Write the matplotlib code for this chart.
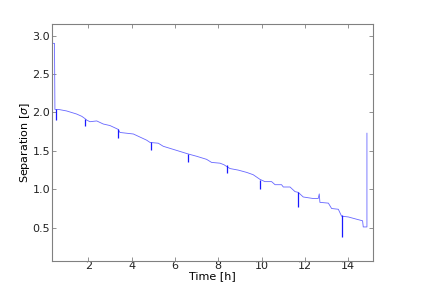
import matplotlib
matplotlib.use('Agg')
import matplotlib.pyplot as plt

# main separation trace (time in h, separation in sigma)
time_h = [0.34, 0.44, 0.46, 0.62, 1.00, 1.23, 1.46, 1.70, 1.85, 1.93, 2.08, 2.39, 2.69,
          3.00, 3.23, 3.38, 3.46, 4.08, 4.31, 4.69, 4.85, 5.23, 5.46, 5.92, 6.38, 6.61,
          7.00, 7.46, 7.69, 8.08, 8.26, 8.54, 8.92, 9.31, 9.61, 9.92, 10.15, 10.46,
          10.62, 10.92, 11.00, 11.31, 11.54, 11.69, 11.92, 12.38, 12.61, 12.66, 12.69,
          13.08, 13.23, 13.54, 13.69, 14.00, 14.39, 14.66, 14.69, 14.86, 14.86]
separation = [2.90, 2.90, 2.04, 2.04, 2.02, 2.00, 1.98, 1.95, 1.92, 1.90, 1.88, 1.89, 1.85,
              1.83, 1.80, 1.78, 1.74, 1.72, 1.69, 1.64, 1.61, 1.60, 1.56, 1.52, 1.48, 1.46,
              1.43, 1.39, 1.35, 1.34, 1.32, 1.27, 1.25, 1.22, 1.19, 1.13, 1.10, 1.10,
              1.06, 1.06, 1.03, 1.03, 0.97, 0.96, 0.90, 0.88, 0.88, 0.94, 0.83,
              0.82, 0.75, 0.74, 0.65, 0.64, 0.61, 0.59, 0.51, 0.51, 1.73]

# short downward glitches
spike_t = [0.52, 1.85, 3.38, 4.90, 6.61, 8.39, 9.92, 11.69, 13.70]
spike_top = [2.04, 1.92, 1.78, 1.62, 1.46, 1.31, 1.12, 0.96, 0.66]
spike_low = [1.90, 1.83, 1.67, 1.51, 1.36, 1.21, 1.00, 0.77, 0.38]

fig = plt.figure(figsize=(4.36, 2.91), dpi=100)
ax = fig.add_axes([0.12, 0.104, 0.736, 0.813])

ax.plot(time_h, separation, color='#6666ff', lw=0.6)
ax.vlines(spike_t, spike_low, spike_top, color='#1a1aff', lw=0.9)

ax.set_xlim(0.34, 15.15)
ax.set_ylim(0.07, 3.15)
ax.set_xticks([2, 4, 6, 8, 10, 12, 14])
ax.set_yticks([0.5, 1.0, 1.5, 2.0, 2.5, 3.0])

for s in ax.spines.values():
    s.set_color('#808080')
ax.tick_params(direction='in', length=3, width=0.6, color='#808080',
               top=True, right=True, labelsize=8, labelcolor='#222222')
ax.tick_params(axis='x', pad=0.5)
ax.tick_params(axis='y', pad=1.5)

ax.set_xlabel('Time [h]', fontsize=8, labelpad=0)
ax.set_ylabel(r'Separation [$\sigma$]', fontsize=8, labelpad=0)

fig.savefig('out.png', dpi=100)
